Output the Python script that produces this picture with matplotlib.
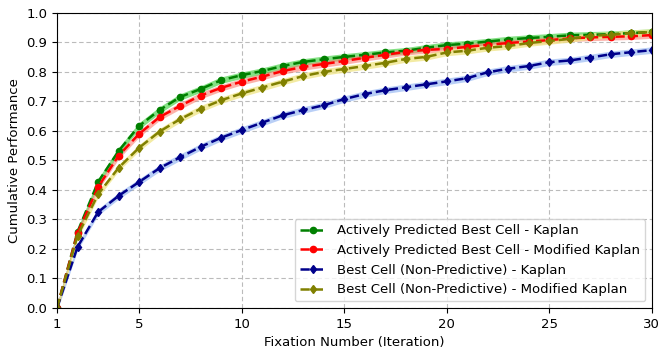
import matplotlib
matplotlib.use('Agg')
import matplotlib.pyplot as plt
import numpy as np

# fixation numbers (iterations)
iterations = list(range(1, 31))

active_kaplan = [0.0, 0.258, 0.427, 0.532, 0.617, 0.671, 0.715, 0.742, 0.772, 0.789,
                 0.803, 0.820, 0.834, 0.843, 0.851, 0.858, 0.866, 0.872, 0.882, 0.891,
                 0.896, 0.903, 0.910, 0.915, 0.919, 0.924, 0.926, 0.928, 0.932, 0.935]
active_modified = [0.0, 0.254, 0.410, 0.516, 0.590, 0.647, 0.685, 0.720, 0.746, 0.767,
                   0.784, 0.803, 0.817, 0.827, 0.837, 0.848, 0.858, 0.868, 0.875, 0.878,
                   0.885, 0.892, 0.898, 0.903, 0.908, 0.914, 0.917, 0.919, 0.921, 0.925]
best_kaplan = [0.0, 0.207, 0.325, 0.380, 0.427, 0.474, 0.511, 0.546, 0.577, 0.603,
               0.628, 0.653, 0.671, 0.687, 0.708, 0.725, 0.738, 0.748, 0.758, 0.768,
               0.779, 0.799, 0.811, 0.820, 0.833, 0.839, 0.849, 0.860, 0.867, 0.874]
best_modified = [0.0, 0.245, 0.385, 0.475, 0.543, 0.598, 0.640, 0.675, 0.704, 0.727,
                 0.747, 0.767, 0.786, 0.800, 0.810, 0.820, 0.831, 0.844, 0.851, 0.866,
                 0.872, 0.882, 0.888, 0.898, 0.905, 0.912, 0.922, 0.926, 0.932, 0.935]

# approximate half-width of the shaded bands
spreads = [0.011, 0.011, 0.011, 0.011]

labels = ['Actively Predicted Best Cell - Kaplan',
          'Actively Predicted Best Cell - Modified Kaplan',
          'Best Cell (Non-Predictive) - Kaplan',
          'Best Cell (Non-Predictive) - Modified Kaplan']

fig = plt.figure(figsize=(6.59, 3.5), dpi=100)
ax = fig.add_axes([0.0865, 0.12, 0.9025, 0.843])

series = [active_kaplan, active_modified, best_kaplan, best_modified]
line_colors = ['green', 'red', 'darkblue', 'olive']
band_colors = ['limegreen', 'salmon', 'cornflowerblue', 'khaki']
markers = ['o', 'o', 'd', 'd']
band_alpha = [0.6, 0.6, 0.45, 0.8]

x = np.array(iterations)
for vals, lab, lc, bc, m, s, a in zip(series, labels, line_colors, band_colors,
                                      markers, spreads, band_alpha):
    v = np.array(vals)
    ax.fill_between(x, v - s, v + s, color=bc, alpha=a, linewidth=0)
    ax.plot(x, v, linestyle='--', color=lc, marker=m, markersize=4.5,
            linewidth=1.8, label=lab)

ax.set_xlim(1, 30)
ax.set_ylim(0, 1.0)
ax.set_xticks([1, 5, 10, 15, 20, 25, 30])
ax.set_yticks(np.arange(0, 1.01, 0.1))
ax.grid(True, linestyle=(0, (4, 2.5)), color='#bbbbbb', linewidth=0.8)
ax.set_axisbelow(True)
ax.tick_params(labelsize=9.5)
ax.set_xlabel('Fixation Number (Iteration)', fontsize=9.5)
ax.set_ylabel('Cumulative Performance', fontsize=9.5)
ax.legend(loc='lower right', fontsize=9.5)

fig.savefig('out.png', dpi=100)
